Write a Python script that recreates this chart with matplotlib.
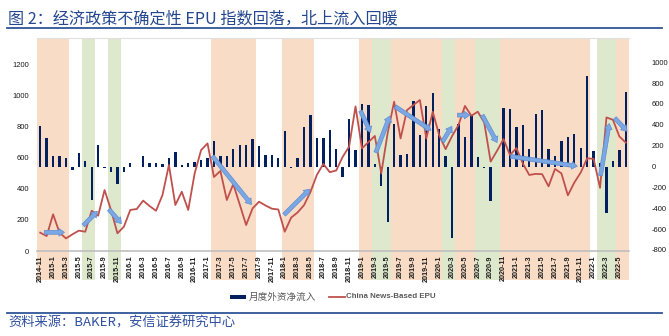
import matplotlib
matplotlib.use('Agg')
import matplotlib.pyplot as plt
from matplotlib.patches import FancyArrowPatch, Rectangle
from matplotlib.lines import Line2D

# ---------------- data ----------------
months = []
_y, _m = 2014, 11
for _ in range(92):
    months.append(f"{_y}-{_m}")
    _m += 1
    if _m > 12:
        _m = 1
        _y += 1

# 月度外资净流入 (right axis)
inflow = [390, 271, 102, 100, 86, -35, 134, 54, -319, 204,
          -10, -51, -163, -57, 29, -5, 102, 29, 29, 22,
          86, 140, 15, 32, 45, 64, 86, 246, 102, 96,
          166, 204, 210, 262, 198, 108, 115, 80, 341, -19,
          86, 380, 498, 278, 278, 348, 166, -105, 459, 156,
          597, 593, 22, -185, -533, 410, 110, 123, 628, 306,
          581, 708, 364, 102, -686, 405, 287, 494, 93, -10,
          -335, -5, 558, 549, 383, 396, 172, 504, 542, 169,
          96, 249, 287, 313, 175, 871, 153, 32, -447, 50,
          156, 713]

# China News-Based EPU (left axis)
epu = [118, 96, 236, 118, 81, 107, 131, 124, 259, 227,
       392, 264, 114, 156, 264, 270, 324, 289, 259, 360,
       553, 296, 381, 264, 499, 649, 692, 476, 515, 328,
       430, 300, 167, 274, 317, 293, 272, 267, 124, 215,
       248, 295, 380, 490, 560, 507, 518, 605, 671, 930,
       660, 700, 740, 499, 760, 960, 724, 906, 939, 971,
       724, 896, 745, 655, 739, 810, 933, 870, 896, 826,
       575, 645, 720, 617, 662, 563, 489, 496, 494, 416,
       528, 499, 358, 440, 505, 596, 593, 406, 859, 844,
       737, 697]

shade_orange = [("2014-11", "2015-3"), ("2017-2", "2017-8"), ("2018-1", "2018-5"),
                ("2019-1", "2019-2"), ("2019-6", "2020-1"), ("2020-4", "2020-6"),
                ("2020-11", "2021-12"), ("2022-5", "2022-6")]
shade_green = [("2015-6", "2015-7"), ("2015-10", "2015-11"), ("2019-3", "2019-5"),
               ("2020-2", "2020-3"), ("2020-7", "2020-10"), ("2022-2", "2022-4")]

# trend arrows (category position, EPU value)
arrows = [((0.2, 120), (4.2, 120)),
          ((6.4, 152), (9.2, 268)),
          ((10.4, 281), (12.9, 163)),
          ((26.5, 624), (33.1, 285)),
          ((37.6, 221), (42.2, 410)),
          ((49.6, 918), (51.5, 746)),
          ((52.0, 617), (54.5, 885)),
          ((54.8, 939), (61.1, 767)),
          ((62.3, 688), (64.2, 817)),
          ((64.4, 874), (67.2, 874)),
          ((68.5, 889), (71.2, 682)),
          ((72.7, 611), (83.9, 543)),
          ((87.0, 467), (88.5, 838)),
          ((89.0, 868), (91.5, 757))]

left_ticks = [0, 200, 400, 600, 800, 1000, 1200]
right_ticks = [-800, -600, -400, -200, 0, 200, 400, 600, 800, 1000]

# ---------------- figure ----------------
W, H = 669, 336
fig = plt.figure(figsize=(W / 100, H / 100), dpi=100)
plt.rcParams['font.family'] = ['Liberation Sans', 'Noto Sans CJK SC', 'DejaVu Sans']

def fx(px):
    return px / W

def fy(py):
    return 1 - py / H

ax = fig.add_axes([fx(37), fy(251), fx(629) - fx(37), fy(38) - fy(251)])
ax2 = ax.twinx()
x = list(range(len(months)))

# shading
idx = {m: i for i, m in enumerate(months)}
for a, b in shade_orange:
    ax.axvspan(idx[a] - 0.5, idx[b] + 0.5, ymin=-0.136, ymax=1, color='#F9DCC5',
               lw=0, zorder=0, clip_on=False)
for a, b in shade_green:
    ax.axvspan(idx[a] - 0.5, idx[b] + 0.5, ymin=-0.136, ymax=1, color='#DEE8CC',
               lw=0, zorder=0, clip_on=False)

# bars on right scale
ax.bar(x, inflow, width=0.36, color='#002060', zorder=2)
ax.set_xlim(-0.5, len(months) - 0.5)
ax.set_ylim(-810, 1232)
ax.yaxis.tick_right()
ax.yaxis.set_label_position('right')
ax.set_yticks(right_ticks)
ax.set_yticklabels([str(v) for v in right_ticks])
ax.tick_params(axis='y', which='both', left=False, right=False, labelleft=False,
               labelright=True, length=0, pad=16.5, labelsize=5.5, labelcolor='#1a1a1a')
ax.set_xticks(x[::2])
ax.set_xticklabels(months[::2], rotation=90, fontsize=5.2, fontweight='bold', color='#1a1a1a')
ax.tick_params(axis='x', length=0, pad=3)
for s in ['left', 'right']:
    ax.spines[s].set_visible(False)
ax.spines['bottom'].set_color('#BFBFBF')
ax.spines['bottom'].set_linewidth(1.2)
ax.spines['top'].set_color('#E0E0E0')
ax.spines['top'].set_linewidth(0.8)
ax.patch.set_visible(False)

# line on left scale
ax2.plot(x, epu, color='#C0504D', lw=1.3, zorder=3)
ax2.set_ylim(0, 1370)
ax2.yaxis.tick_left()
ax2.yaxis.set_label_position('left')
ax2.set_yticks(left_ticks)
ax2.set_yticklabels([str(v) for v in left_ticks])
ax2.tick_params(axis='y', which='both', left=False, right=False, labelleft=True,
                labelright=False, length=0, pad=5.5, labelsize=5.5, labelcolor='#1a1a1a')
for s in ax2.spines.values():
    s.set_visible(False)

for (x0, y0), (x1, y1) in arrows:
    arr = FancyArrowPatch((x0, y0), (x1, y1),
                          arrowstyle='simple,head_length=4,head_width=5.5,tail_width=2.8',
                          mutation_scale=1, fc='#7BA7E2', ec='#5C8DD6', lw=0.5,
                          zorder=5, clip_on=False)
    ax2.add_patch(arr)

# title & lines
fig.text(fx(8), fy(19), '图 2：经济政策不确定性 EPU 指数回落，北上流入回暖',
         fontsize=11.6, color='#24478F', va='center', ha='left',
         family=['Noto Sans CJK SC', 'DejaVu Sans'])
fig.add_artist(Line2D([fx(7), fx(662)], [fy(27.5), fy(27.5)], color='#2F5597', lw=1.3))
fig.add_artist(Line2D([fx(7), fx(662)], [fy(312.5), fy(312.5)], color='#2F5597', lw=1.3))
fig.text(fx(8), fy(322.5), '资料来源：BAKER，安信证券研究中心', fontsize=9.5,
         color='#2F4F9F', va='center', ha='left', style='italic',
         family=['Noto Sans CJK SC', 'DejaVu Sans'])

# legend
fig.add_artist(Rectangle((fx(230), fy(299)), fx(16), 4 / H, color='#002060', lw=0))
fig.text(fx(249), fy(297), '月度外资净流入', fontsize=6.9, color='#595959',
         va='center', ha='left', family=['Noto Sans CJK SC', 'DejaVu Sans'])
fig.add_artist(Line2D([fx(329), fx(345)], [fy(297), fy(297)], color='#C0504D', lw=1.3))
fig.text(fx(346), fy(297), 'China News-Based EPU', fontsize=5.7, color='#595959',
         va='center', ha='left', fontweight='bold')

fig.savefig('out.png', dpi=100)
